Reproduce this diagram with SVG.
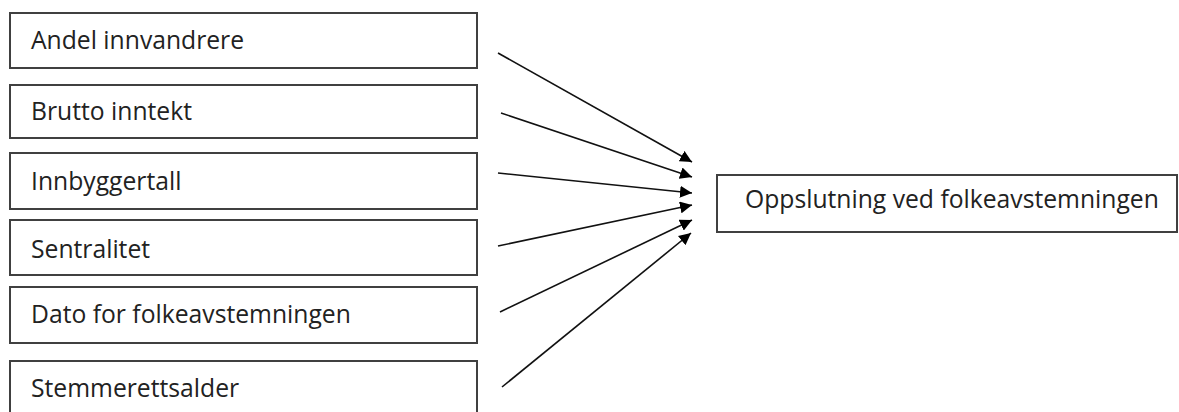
<svg xmlns="http://www.w3.org/2000/svg" width="1179" height="412" viewBox="0 0 1179 412">
<style>
.box{fill:#fff;stroke:#404040;stroke-width:2}
.lbl{font-family:"Open Sans","Liberation Sans",sans-serif;font-size:24.7px;fill:#222}
.conn{stroke:#111;stroke-width:1.6;fill:none}
</style>
<defs>
<marker id="ah" viewBox="0 0 10 10" refX="10" refY="5" markerWidth="7.5" markerHeight="7.5" markerUnits="strokeWidth" orient="auto">
<path d="M0,0 L10,5 L0,10 z" fill="#000"/>
</marker>
</defs>
<rect width="1179" height="412" fill="#fff"/>
<g id="n1"><rect class="box" x="10" y="13" width="467" height="55"/><text class="lbl" x="31" y="49">Andel innvandrere</text></g>
<g id="n2"><rect class="box" x="10" y="85" width="467" height="53"/><text class="lbl" x="31" y="120">Brutto inntekt</text></g>
<g id="n3"><rect class="box" x="10" y="153" width="467" height="56"/><text class="lbl" x="31" y="190">Innbyggertall</text></g>
<g id="n4"><rect class="box" x="10" y="220" width="467" height="55"/><text class="lbl" x="31" y="258">Sentralitet</text></g>
<g id="n5"><rect class="box" x="10" y="287" width="467" height="56"/><text class="lbl" x="31" y="323">Dato for folkeavstemningen</text></g>
<g id="n6"><rect class="box" x="10" y="361" width="467" height="60"/><text class="lbl" x="31" y="397">Stemmerettsalder</text></g>
<g id="target"><rect class="box" x="717" y="175" width="460" height="57"/><text class="lbl" x="745" y="208">Oppslutning ved folkeavstemningen</text></g>
<g id="connectors">
<line class="conn" x1="498" y1="53" x2="692" y2="162" marker-end="url(#ah)"/>
<line class="conn" x1="501" y1="113" x2="692" y2="177" marker-end="url(#ah)"/>
<line class="conn" x1="498" y1="173" x2="692" y2="193" marker-end="url(#ah)"/>
<line class="conn" x1="498" y1="246" x2="692" y2="205" marker-end="url(#ah)"/>
<line class="conn" x1="500" y1="312" x2="692" y2="220" marker-end="url(#ah)"/>
<line class="conn" x1="502" y1="387" x2="691" y2="233" marker-end="url(#ah)"/>
</g>
</svg>
